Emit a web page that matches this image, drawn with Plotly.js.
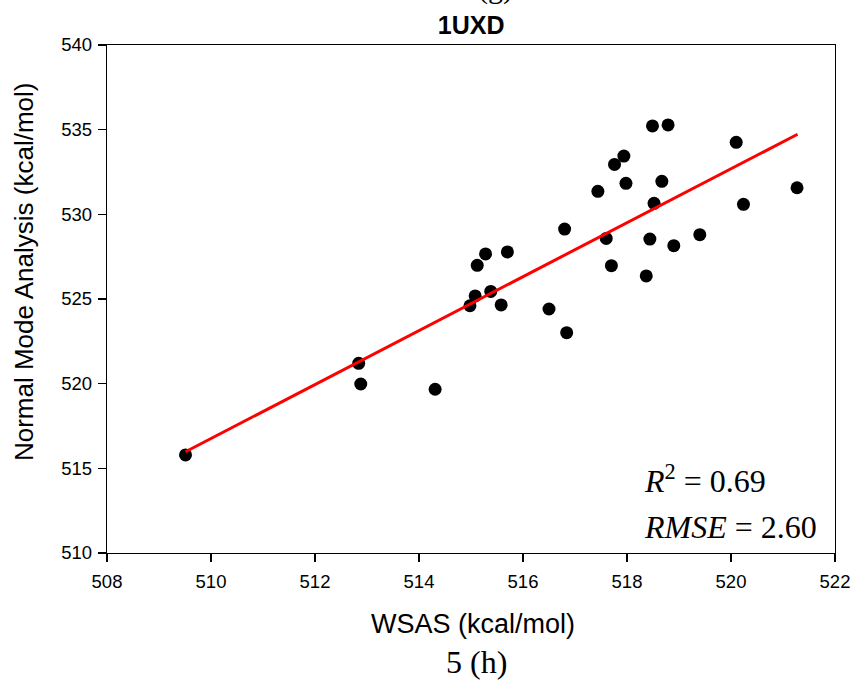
<!DOCTYPE html>
<html>
<head>
<meta charset="utf-8">
<script src="https://cdn.plot.ly/plotly-3.0.1.min.js"></script>
<style>html,body{margin:0;padding:0;background:#fff;}#chart{width:855px;height:683px;}</style>
</head>
<body>
<div id="chart"></div>
<script>
// WSAS (kcal/mol) values
const wsas = [518.49, 518.79, 520.10, 517.94, 517.76, 517.98, 518.67, 517.44, 521.27, 518.52,
              520.24, 516.80, 517.60, 518.44, 519.40, 518.90, 515.28, 515.70, 515.12, 517.70,
              518.37, 515.08, 515.38, 514.98, 515.58, 516.50, 516.84, 512.84, 512.88, 514.31,
              509.51];
// Normal Mode Analysis (kcal/mol) values
const nma = [535.22, 535.28, 534.25, 533.44, 532.95, 531.83, 531.95, 531.36, 531.57, 530.65,
             530.59, 529.13, 528.58, 528.54, 528.80, 528.15, 527.66, 527.78, 526.99, 526.97,
             526.36, 525.18, 525.45, 524.60, 524.65, 524.41, 523.01, 521.20, 519.98, 519.67,
             515.79];
// Regression line end points
const fitX = [509.51, 521.28];
const fitY = [515.98, 534.73];
const xTicks = [508, 510, 512, 514, 516, 518, 520, 522];
const yTicks = [510, 515, 520, 525, 530, 535, 540];

const SANS = 'Liberation Sans, Arial, sans-serif';
const SERIF = 'Liberation Serif, Times New Roman, serif';

const traces = [
  {x: wsas, y: nma, mode: 'markers', type: 'scatter',
   marker: {color: '#000', size: 13}, showlegend: false, cliponaxis: false},
  {x: fitX, y: fitY, mode: 'lines', type: 'scatter',
   line: {color: '#ff0000', width: 3}, showlegend: false}
];

const axisCommon = {
  showgrid: false, zeroline: false, showline: true, linecolor: '#000', linewidth: 1.3,
  mirror: true, ticks: 'outside', ticklen: 8, tickwidth: 1.3, tickcolor: '#000',
  tickfont: {family: SANS, size: 18.5, color: '#000'}
};

const layout = {
  width: 855, height: 683,
  margin: {l: 107, r: 20, t: 45, b: 130},
  paper_bgcolor: '#fff', plot_bgcolor: '#fff',
  title: {text: '<b>1UXD</b>', x: 0.551, xanchor: 'center', y: 0.963, yanchor: 'middle',
          font: {family: SANS, size: 25, color: '#000'}},
  xaxis: Object.assign({}, axisCommon, {
    range: [508, 522], tickvals: xTicks, ticktext: xTicks.map(String), ticklabelstandoff: 3
  }),
  yaxis: Object.assign({}, axisCommon, {
    range: [510, 540], tickvals: yTicks, ticktext: yTicks.map(String), ticklabelstandoff: 2
  }),
  annotations: [
    {xref: 'paper', yref: 'paper', x: 0.503, y: -0.140, xanchor: 'center', yanchor: 'middle',
     text: 'WSAS (kcal/mol)', showarrow: false,
     font: {family: SANS, size: 27, color: '#000'}},
    {xref: 'paper', yref: 'paper', x: -0.114, y: 0.553, xanchor: 'center', yanchor: 'middle',
     text: 'Normal Mode Analysis (kcal/mol)', showarrow: false, textangle: -90,
     font: {family: SANS, size: 26, color: '#000'}},
    {xref: 'paper', yref: 'paper', x: 0.735, y: 0.146, xanchor: 'left', yanchor: 'middle',
     text: '<i>R</i><sup>2</sup> = 0.69', showarrow: false,
     font: {family: SERIF, size: 32, color: '#000'}},
    {xref: 'paper', yref: 'paper', x: 0.735, y: 0.051, xanchor: 'left', yanchor: 'middle',
     text: '<i>RMSE</i> = 2.60', showarrow: false,
     font: {family: SERIF, size: 32, color: '#000'}},
    {xref: 'paper', yref: 'paper', x: 0.507, y: -0.2146, xanchor: 'center', yanchor: 'middle',
     text: '5 (h)', showarrow: false,
     font: {family: SERIF, size: 32, color: '#000'}},
    {xref: 'paper', yref: 'paper', x: 0.533, y: 1.074, xanchor: 'center', yanchor: 'bottom',
     text: '(g)', showarrow: false,
     font: {family: SERIF, size: 30, color: '#000'}}
  ]
};

Plotly.newPlot('chart', traces, layout, {displayModeBar: false, staticPlot: true});
</script>
</body>
</html>
